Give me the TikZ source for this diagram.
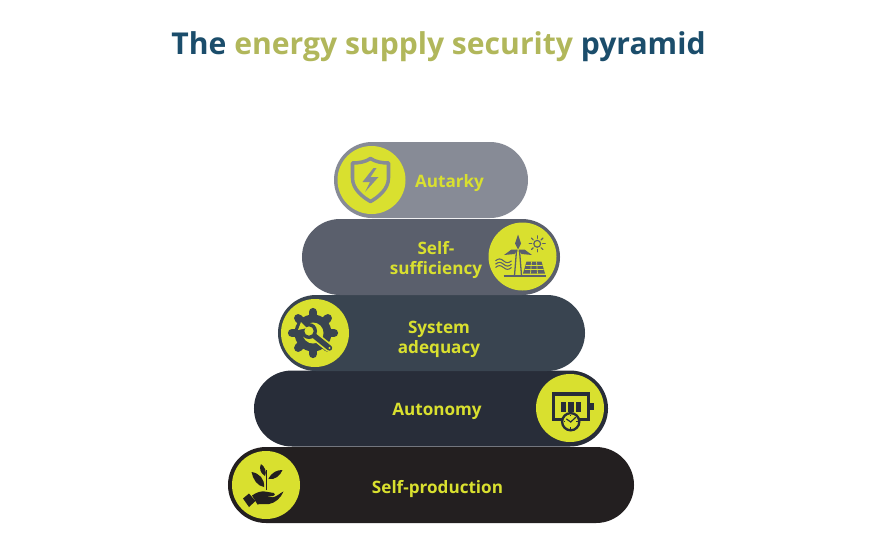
\documentclass[tikz,border=0pt]{standalone}
\usepackage{fontspec}
\setmainfont{Open Sans}
\usetikzlibrary{shapes.misc}
\definecolor{titleblue}{HTML}{1B4D6B}
\definecolor{titleolive}{HTML}{B1B75B}
\definecolor{lime}{HTML}{D9E02F}
\definecolor{stepA}{HTML}{878B96}
\definecolor{stepB}{HTML}{5A5F6C}
\definecolor{stepC}{HTML}{394450}
\definecolor{stepD}{HTML}{282D39}
\definecolor{stepE}{HTML}{231F20}
\tikzset{
	pill/.style={rounded rectangle, minimum height=2.28cm, inner sep=0pt, outer sep=0pt},
	badge/.style={circle, fill=lime, minimum size=2.04cm, inner sep=0pt},
	steplabel/.style={text=lime, align=center, font=\fontsize{14.6}{17}\selectfont\bfseries},
	thin icon/.style={line width=1pt, line cap=round},
}
\begin{document}
\begin{tikzpicture}[x=0.03cm, y=-0.03cm]
	%%%%% START %%%%%
	\useasboundingbox (0, 0) rectangle (870, 550);

	\node (title) at (438.5, 47) {\fontsize{25.7}{30}\selectfont\bfseries
		\textcolor{titleblue}{The} \textcolor{titleolive}{energy supply security} \textcolor{titleblue}{pyramid}};

	% steps, top one last
	\node[pill, fill=stepE, minimum width=12.18cm] (production) at (431, 485) {};
	\node[pill, fill=stepD, minimum width=10.62cm] (autonomy) at (431, 408.5) {};
	\node[pill, fill=stepC, minimum width=9.21cm] (adequacy) at (431.5, 333) {};
	\node[pill, fill=stepB, minimum width=7.74cm] (sufficiency) at (431, 257) {};
	\node[pill, fill=stepA, minimum width=5.82cm] (autarky) at (431, 180) {};

	\node[badge] (badgeA) at (371.5, 180) {};
	\node[badge] (badgeB) at (522.5, 256.5) {};
	\node[badge] (badgeC) at (315, 333) {};
	\node[badge] (badgeD) at (570, 408) {};
	\node[badge] (badgeE) at (266, 485) {};

	\node[steplabel] (labelA) at (449.5, 183) {Autarky};
	\node[steplabel] (labelB) at (436, 260) {Self-\\sufficiency};
	\node[steplabel] (labelC) at (439, 339) {System\\adequacy};
	\node[steplabel] (labelD) at (437, 411.5) {Autonomy};
	\node[steplabel] (labelE) at (437.5, 489) {Self-production};

	% shield
	\begin{scope}[shift={(badgeA.center)}]
		\draw[stepA, line width=3pt, line join=round] (-1, -21.5) .. controls (-6, -18) and (-13, -17) .. (-19, -17)
			-- (-19, -2) .. controls (-19, 9) and (-9, 17) .. (-1, 21.5)
			.. controls (7, 17) and (17, 9) .. (17, -2) -- (17, -17)
			.. controls (11, -17) and (4, -18) .. (-1, -21.5) -- cycle;
		\fill[stepA] (2, -12) -- (-9, 2) -- (-1.5, 2) -- (-6.5, 12) -- (7, -3) -- (-1, -3) -- (5, -12) -- cycle;
	\end{scope}

	% wind turbine, sun, panel
	\begin{scope}[shift={(badgeB.center)}]
		\draw[stepB, line width=1.7pt] (-19, 19.5) -- (23, 19.5);
		\draw[stepB, line width=1.1pt] (-8, 19) -- (-6, -6) -- (-3, -6) -- (-1, 19);
		\fill[stepB] (-4.5, -7) -- (-7.5, -13) -- (-4.5, -22) -- (-1.5, -13) -- cycle;
		\fill[stepB] (-4.5, -7) -- (-11, -7) -- (-18.5, -1.5) -- (-8, -2.5) -- cycle;
		\fill[stepB] (-4.5, -7) -- (2, -7) -- (9.5, -1.5) -- (-1, -2.5) -- cycle;
		\fill[lime] (-4.5, -6.5) circle (1);
		\draw[stepB, line width=1pt] (14.7, -12.7) circle (3.4);
		\foreach \ang in {0, 45, ..., 315}
			\draw[stepB, thin icon] (14.7, -12.7) ++(\ang:5.5) -- ++(\ang:2.5);
		\fill[stepB] (4, 5) -- (19, 5) -- (22.5, 17) -- (0.5, 17) -- cycle;
		\draw[lime, line width=0.6pt] (3.2, 9) -- (20.2, 9) (2, 13) -- (21.2, 13)
			(9, 5) -- (8, 17) (14, 5) -- (15, 17);
		\foreach \yy in {4.3, 7.7, 11}
			\draw[stepB, line width=0.9pt] (-27, \yy) .. controls (-24, \yy-2.5) and (-22, \yy-2.5) .. (-19, \yy)
				.. controls (-16, \yy+2.5) and (-14, \yy+2.5) .. (-11, \yy);
	\end{scope}

	% gear with wrench
	\begin{scope}[shift={(badgeC.center)}]
		\fill[stepC] (-2, 0) circle (18.5);
		\foreach \ang in {0, 45, ..., 315}
			\draw[stepC, line width=7pt, line cap=round] (-2, 0) ++(\ang:15) -- ++(\ang:6);
		\fill[lime] (-2, 0) circle (10.5);
		\draw[lime, line width=7.4pt, line cap=round] (-3, 1) -- (14.5, 15);
		\draw[stepC, line width=4.6pt, line cap=round] (-3, 1) -- (14.5, 15);
		\fill[stepC] (-6, -2) circle (8);
		\fill[lime] (-6, -2) circle (4.6);
		\fill[lime] (-8, -5) -- (-14, -11) -- (-17, -3) -- cycle;
		\fill[lime] (14.5, 15) circle (1.2);
	\end{scope}

	% battery with clock
	\begin{scope}[shift={(badgeD.center)}]
		\draw[stepD, line width=2.8pt] (-16.7, -14) rectangle (18.4, 11.5);
		\fill[stepD] (20, -4.7) rectangle (24, 2);
		\fill[stepD] (-9.3, -5.7) rectangle (-3.7, 4.3);
		\fill[stepD] (-1.7, -5.7) rectangle (3.9, 4.3);
		\fill[stepD] (5.7, -5.7) rectangle (11.3, 4.3);
		\draw[stepD, fill=lime, line width=2pt] (0.7, 13.7) circle (8.6);
		\draw[stepD, line width=1pt, line cap=round] (-3.5, 11) -- (0.7, 14) -- (5.5, 9.5);
		\foreach \ang in {0, 90, 180, 270}
			\draw[stepD, line width=0.8pt] (0.7, 13.7) ++(\ang:5.5) -- ++(\ang:1.7);
	\end{scope}

	% plant on a hand
	\begin{scope}[shift={(badgeE.center)}]
		\draw[stepE, line width=1.3pt] (0.7, 5) -- (0.7, -15);
		\fill[stepE] (-1, -9) .. controls (-6, -12) and (-7, -17) .. (-5, -21)
			.. controls (-1, -18) and (1, -13) .. (-1, -9) -- cycle;
		\fill[stepE] (-2, 2) .. controls (-9, 1) and (-13, -6) .. (-14.5, -13)
			.. controls (-7, -12) and (-1, -6) .. (-2, 2) -- cycle;
		\fill[stepE] (2.3, -6) .. controls (6, -13) and (11, -15) .. (16.5, -15)
			.. controls (14, -9) and (9, -5) .. (2.3, -6) -- cycle;
		\fill[stepE] (-23, 13.5) -- (-17, 8.5) -- (-10.5, 16) -- (-17, 22) -- cycle;
		\fill[stepE] (-14, 10.5) .. controls (-9, 7) and (-5, 6) .. (-1, 6.5)
			-- (8, 8) .. controls (9.5, 9) and (9, 11) .. (7, 11) -- (-1, 11)
			-- (7, 12.3) .. controls (11, 11.5) and (14, 8) .. (17.5, 6.5)
			.. controls (15, 13) and (9, 18) .. (3, 19)
			.. controls (-2, 19.5) and (-6, 18.5) .. (-8.5, 19.5) -- cycle;
	\end{scope}
	%%%%% END %%%%%
\end{tikzpicture}
\end{document}
